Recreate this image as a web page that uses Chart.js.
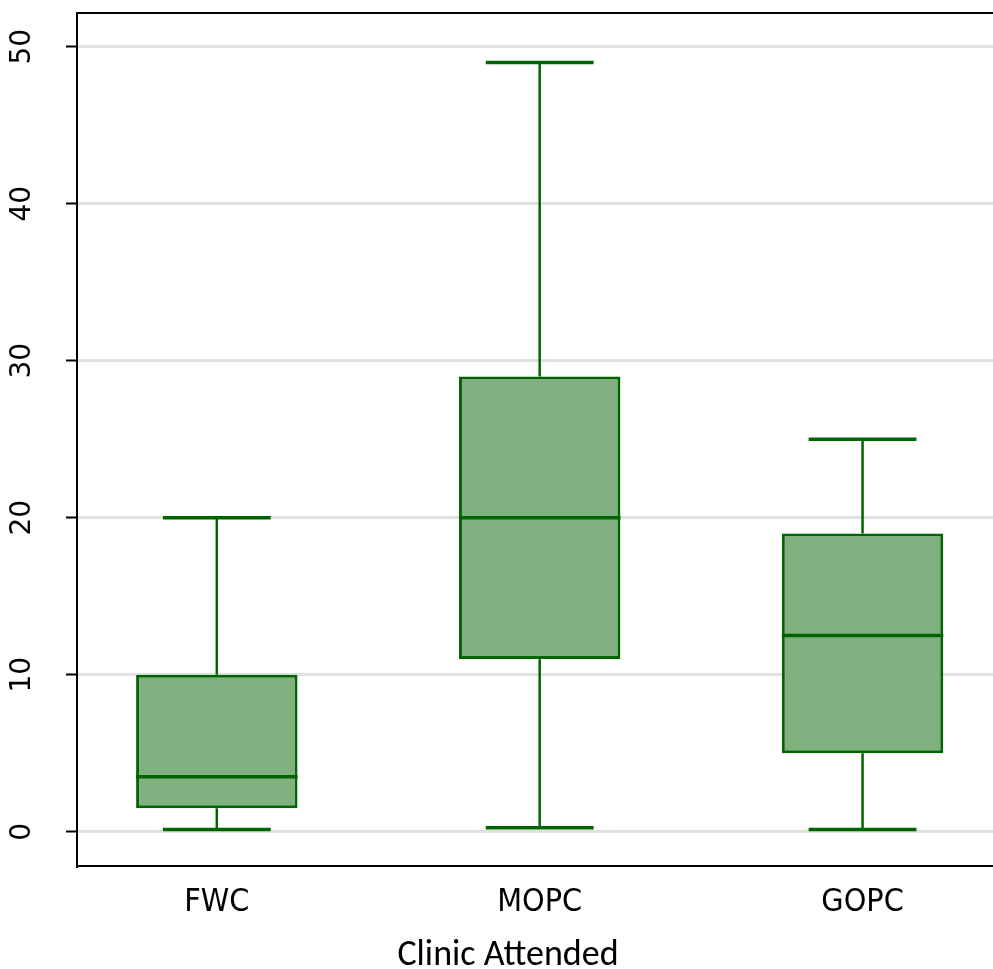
<!DOCTYPE html>
<html><head><meta charset="utf-8">
<script src="https://cdn.jsdelivr.net/npm/chart.js@4/dist/chart.umd.min.js"></script>
<style>html,body{margin:0;padding:0;background:#fff;}</style>
</head><body>
<canvas id="c" width="993" height="969"></canvas>
<script>
const categories = ['FWC', 'MOPC', 'GOPC'];
const whiskerLow = [0.15, 0.25, 0.15];
const q1 = [1.5, 11, 5];
const median = [3.5, 20, 12.5];
const q3 = [10, 29, 19];
const whiskerHigh = [20, 49, 25];
const yTicks = [0, 10, 20, 30, 40, 50];
const xTitle = 'Clinic Attended';

const GREEN = '#006400';
const FILL = '#80b080';

function seg(ctx, x1, y1, x2, y2) {
  ctx.beginPath(); ctx.moveTo(x1, y1); ctx.lineTo(x2, y2); ctx.stroke();
}

const boxPlugin = {
  id: 'boxWhiskers',
  afterDatasetsDraw(chart, args, opts) {
    const { ctx, chartArea, scales: { x, y } } = chart;
    const meta = chart.getDatasetMeta(0);
    ctx.save();
    ctx.strokeStyle = GREEN;
    ctx.lineCap = 'butt';
    categories.forEach((c, i) => {
      const xc = x.getPixelForValue(i + 1);
      const capHalf = x.getPixelForValue(i + 1 + opts.capHalf) - xc;
      const boxHalf = meta.data[i].width / 2;
      ctx.lineWidth = opts.whiskerWidth;
      seg(ctx, xc, y.getPixelForValue(q3[i]), xc, y.getPixelForValue(whiskerHigh[i]));
      seg(ctx, xc, y.getPixelForValue(q1[i]), xc, y.getPixelForValue(whiskerLow[i]));
      ctx.lineWidth = opts.capWidth;
      seg(ctx, xc - capHalf, y.getPixelForValue(whiskerHigh[i]), xc + capHalf, y.getPixelForValue(whiskerHigh[i]));
      seg(ctx, xc - capHalf, y.getPixelForValue(whiskerLow[i]), xc + capHalf, y.getPixelForValue(whiskerLow[i]));
      seg(ctx, xc - boxHalf, y.getPixelForValue(median[i]), xc + boxHalf, y.getPixelForValue(median[i]));
    });
    ctx.strokeStyle = '#000';
    ctx.lineWidth = 2;
    seg(ctx, chartArea.left - 1, chartArea.top, chartArea.right, chartArea.top);
    ctx.restore();
  },
  afterDraw(chart, args, opts) {
    // rotated y tick labels placed with the y scale
    const { ctx, scales: { y } } = chart;
    ctx.save();
    ctx.fillStyle = '#000';
    ctx.font = opts.yLabelFont;
    ctx.textAlign = 'center';
    ctx.textBaseline = 'middle';
    yTicks.forEach(v => {
      ctx.save();
      ctx.translate(opts.yLabelX, y.getPixelForValue(v));
      ctx.rotate(-Math.PI / 2);
      ctx.fillText(String(v), 0, 0);
      ctx.restore();
    });
    ctx.restore();
  }
};

new Chart(document.getElementById('c'), {
  type: 'bar',
  data: {
    datasets: [{
      data: categories.map((c, i) => ({ x: i + 1, y: [q1[i], q3[i]] })),
      backgroundColor: FILL,
      borderColor: GREEN,
      borderWidth: 3,
      borderSkipped: false,
      categoryPercentage: 1,
      barPercentage: 0.5
    }]
  },
  options: {
    responsive: false,
    animation: false,
    devicePixelRatio: 1,
    layout: { padding: { top: 13, left: 23, right: 0, bottom: 0 } },
    plugins: {
      legend: { display: false },
      tooltip: { enabled: false },
      title: {
        display: true,
        position: 'bottom',
        text: xTitle,
        color: '#000',
        font: { family: "Carlito, Lato, 'Open Sans', sans-serif", size: 36, weight: 'normal', lineHeight: 1 },
        padding: { top: 5, bottom: -5 }
      },
      boxWhiskers: { capHalf: 0.167, whiskerWidth: 2.5, capWidth: 3.5, yLabelX: 23, yLabelFont: "28px 'DejaVu Sans', sans-serif" }
    },
    scales: {
      x: {
        type: 'linear',
        offset: false,
        min: 0.567,
        max: 3.404,
        grid: { display: false, offset: false },
        border: { display: true, color: '#000', width: 2 },
        afterBuildTicks: (s) => { s.ticks = categories.map((c, i) => ({ value: i + 1 })); },
        afterFit: (s) => { s.height = 67; },
        ticks: {
          autoSkip: false,
          maxRotation: 0,
          color: '#000',
          padding: 9,
          font: { family: "'Liberation Sans Narrow', 'DejaVu Sans Condensed', 'Liberation Sans', sans-serif", size: 32 },
          callback: (v) => categories[Math.round(v) - 1] || ''
        }
      },
      y: {
        type: 'linear',
        min: -2.18,
        max: 52.15,
        afterBuildTicks: (s) => { s.ticks = yTicks.map(v => ({ value: v })); },
        afterFit: (s) => { s.width = 54; },
        grid: { color: '#e0e0e0', lineWidth: 3, tickColor: '#000', tickWidth: 2, tickLength: 11, drawTicks: true },
        border: { display: true, color: '#000', width: 2 },
        ticks: { display: false }
      }
    }
  },
  plugins: [boxPlugin]
});
</script>
</body></html>
